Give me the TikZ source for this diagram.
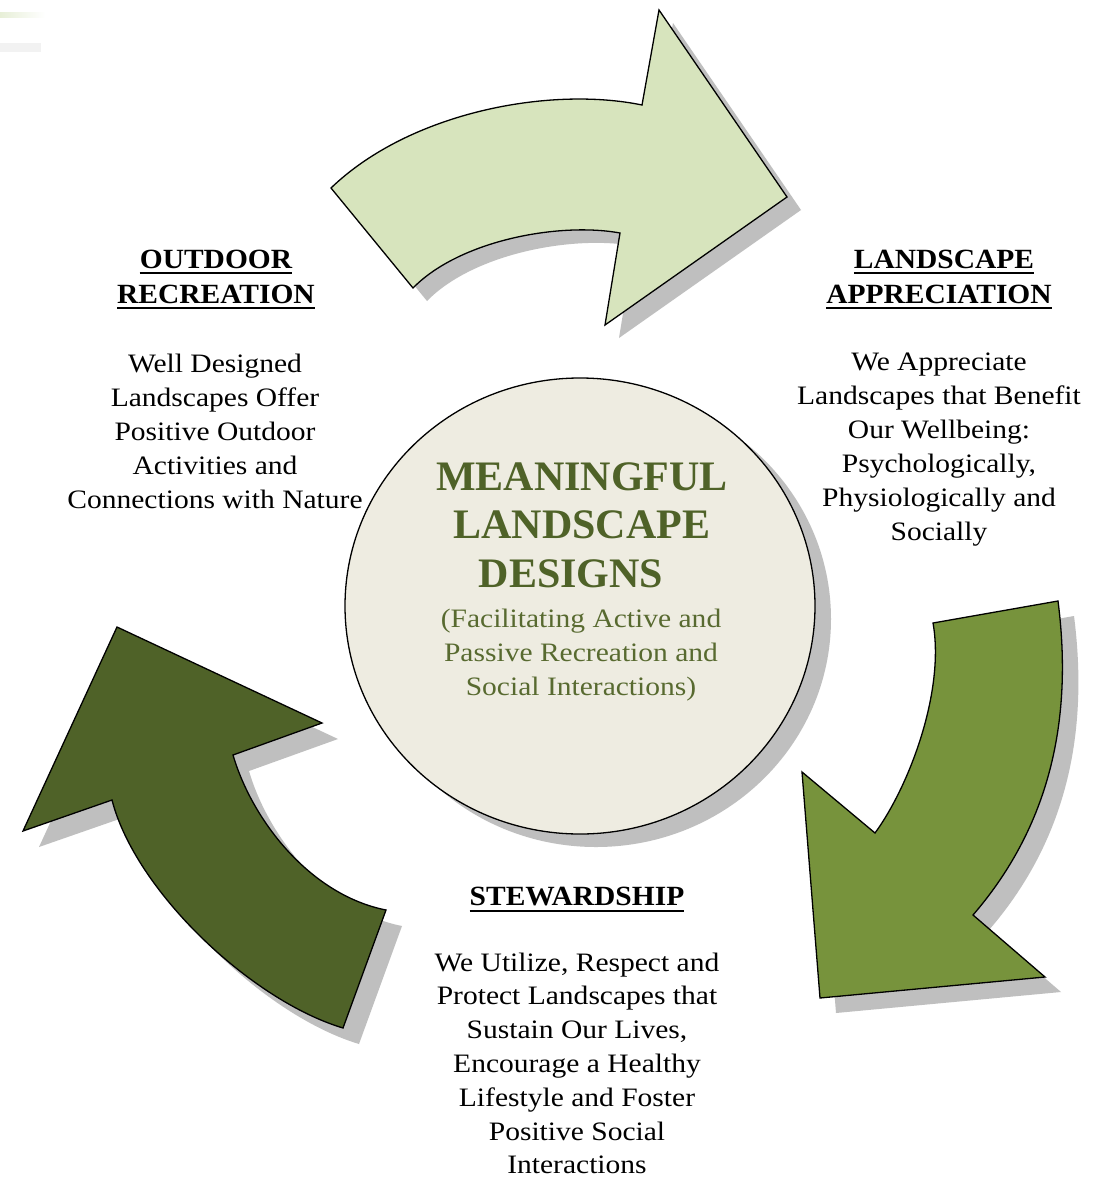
\documentclass[tikz,border=0pt]{standalone}
\usepackage{fontspec}
\setmainfont{Liberation Serif}
\newfontfamily\bodyf[FakeStretch=1.11]{Liberation Serif}
\newfontfamily\headf[FakeStretch=1.06]{Liberation Serif}
\newfontfamily\titlef{Liberation Serif}
\usetikzlibrary{shapes.geometric}
\definecolor{lightarrow}{HTML}{D7E4BD}
\definecolor{midarrow}{HTML}{77933C}
\definecolor{darkarrow}{HTML}{4F6228}
\definecolor{corefill}{HTML}{EEECE1}
\definecolor{titlecol}{HTML}{4F6228}
\definecolor{subcol}{HTML}{586A30}
\definecolor{shadowgray}{HTML}{BFBFBF}
\tikzset{
  arrowtop/.pic={\path[pic actions] (331,188) .. controls (410,112) and (550,86) .. (642,105) -- (659,10) -- (787,197) -- (605,325) -- (620,233) .. controls (560,222) and (460,240) .. (413,288) -- cycle;},
  arrowright/.pic={\path[pic actions] (933,623) -- (1058,601) .. controls (1072,710) and (1055,820) .. (973,915) -- (1045,977) -- (820,998) -- (802,772) -- (875,833) .. controls (910,785) and (945,690) .. (933,623) -- cycle;},
  arrowleft/.pic={\path[pic actions] (117,627) -- (322,723) -- (233,755) .. controls (252,820) and (310,895) .. (386,910) -- (343,1028) .. controls (250,1000) and (135,890) .. (112,800) -- (23,831) -- cycle;},
  outline/.style={draw=black, line width=1.3pt, line join=miter},
  shadowstyle/.style={fill=shadowgray},
  bodytext/.style={anchor=base, inner sep=0pt, font=\bodyf\fontsize{26.6}{34}\selectfont},
  headtext/.style={anchor=base, inner sep=0pt, font=\headf\bfseries\fontsize{27.8}{35}\selectfont},
  titletext/.style={anchor=base, inner sep=0pt, text=titlecol, font=\titlef\bfseries\fontsize{42}{49}\selectfont},
  subtext/.style={bodytext, text=subcol},
  uline/.style={line width=2pt, black}
}
\begin{document}
\begin{tikzpicture}[x=1pt,y=-1pt]
\useasboundingbox (0,0) rectangle (1098,1178);
\fill[white] (0,0) rectangle (1098,1178);
% faint artefacts at top left
\shade[left color=lightarrow!60, right color=white] (0,12) rectangle (45,17);
\fill[gray!10] (0,43) rectangle (41,52);
% shadows
\pic[shadowstyle] at (14,13) {arrowtop};
\pic[shadowstyle] at (16,15) {arrowright};
\pic[shadowstyle] at (16,16) {arrowleft};
% arrows
\pic[outline, fill=lightarrow] at (0,0) {arrowtop};
\pic[outline, fill=midarrow] at (0,0) {arrowright};
\pic[outline, fill=darkarrow] at (0,0) {arrowleft};
% centre
\node[ellipse, fill=shadowgray, minimum width=470pt, minimum height=456pt, inner sep=0pt] (coreshadow) at (596,619) {};
\node[ellipse, outline, fill=corefill, minimum width=470pt, minimum height=456pt, inner sep=0pt] (core) at (580,606) {};
\node[titletext] (t1) at (582,490) {MEANINGFUL};
\node[titletext] (t2) at (582,538) {LANDSCAPE};
\node[titletext] (t3) at (571,587) {DESIGNS};
\node[subtext] (s1) at (581,627) {(Facilitating Active and};
\node[subtext] (s2) at (581,661) {Passive Recreation and};
\node[subtext] (s3) at (581,695) {Social Interactions)};
% outdoor recreation
\node[headtext] (oh1) at (216,268) {OUTDOOR};
\node[headtext] (oh2) at (216,303) {RECREATION};
\draw[uline] ([yshift=-5pt]oh1.south west) -- ([yshift=-5pt]oh1.south east);
\draw[uline] ([yshift=-5pt]oh2.south west) -- ([yshift=-5pt]oh2.south east);
\foreach \t [count=\i] in {Well Designed, Landscapes Offer, Positive Outdoor, Activities and, Connections with Nature}
  \node[bodytext] (ob\i) at (215,{372+34*(\i-1)}) {\t};
% landscape appreciation
\node[headtext] (ah1) at (944,268) {LANDSCAPE\ };
\node[headtext] (ah2) at (939,303) {APPRECIATION};
\draw[uline] ([yshift=-5pt]ah1.south west) -- ([yshift=-5pt]ah1.south east);
\draw[uline] ([yshift=-5pt]ah2.south west) -- ([yshift=-5pt]ah2.south east);
\foreach \t [count=\i] in {We Appreciate, Landscapes that Benefit, Our Wellbeing:, {Psychologically,}, Physiologically and, Socially}
  \node[bodytext] (ab\i) at (939,{370+34*(\i-1)}) {\t};
% stewardship
\node[headtext] (sh1) at (577,905) {STEWARDSHIP};
\draw[uline] ([yshift=-5pt]sh1.south west) -- ([yshift=-5pt]sh1.south east);
\foreach \t [count=\i] in {{We Utilize, Respect and}, Protect Landscapes that, {Sustain Our Lives,}, Encourage a Healthy, Lifestyle and Foster, Positive Social, Interactions}
  \node[bodytext] (sb\i) at (577,{971+33.8*(\i-1)}) {\t};
\end{tikzpicture}
\end{document}
